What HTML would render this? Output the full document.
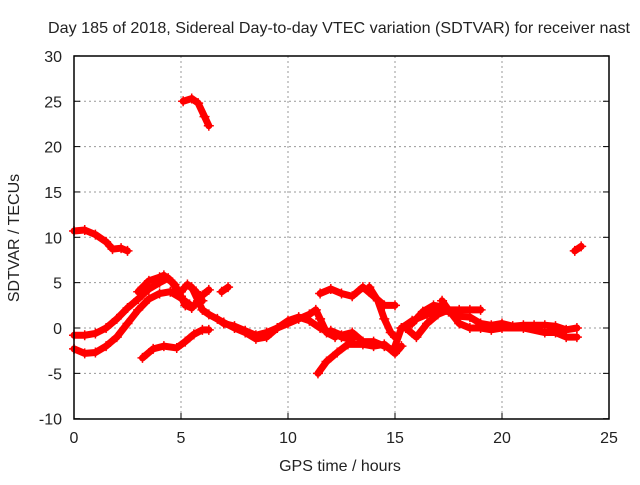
<!DOCTYPE html>
<html><head><meta charset="utf-8"><style>
body{margin:0;background:#fff;font-family:"Liberation Sans",sans-serif}
svg text{font-family:"Liberation Sans",sans-serif;font-size:16px;fill:#222}
</style></head><body>
<svg id="c" width="640" height="480">
<text x="339" y="33" text-anchor="middle" textLength="582" lengthAdjust="spacingAndGlyphs">Day 185 of 2018, Sidereal Day-to-day VTEC variation (SDTVAR) for receiver nast</text>
<text x="340" y="471" text-anchor="middle">GPS time / hours</text>
<text transform="translate(19,238) rotate(-90)" text-anchor="middle">SDTVAR / TECUs</text>
<g id="grid"></g><g id="marks"></g>
<rect x="74" y="56" width="535" height="363" fill="none" stroke="#000" stroke-width="1.5"/>
</svg>
<script>
const xTicks=[0,5,10,15,20,25];
const yTicks=[-10,-5,0,5,10,15,20,25,30];
const tracks=[
[[5.1,25],[5.5,25.3],[5.8,24.8],[6.1,23.3],[6.3,22.3]],
[[0,10.7],[0.5,10.8],[1,10.3],[1.5,9.5],[1.8,8.7],[2.2,8.8],[2.5,8.5]],
[[23.4,8.5],[23.7,9]],
[[0,-0.8],[0.5,-0.8],[1,-0.6],[1.5,0],[2,1],[2.5,2.2],[3,3.2],[3.5,4.3],[4,5],[4.4,5.5],[4.7,4.8],[5,3.5],[5.2,2.5],[5.5,2.2],[5.8,3],[6,3.6],[6.3,4.2]],
[[3,4],[3.5,5.2],[4,5.6],[4.2,5.8],[4.6,5],[5,3.3],[5.4,2.6]],
[[5,4],[5.3,4.8],[5.7,4],[6,3]],
[[5.5,4.5],[6,2],[6.3,1.5],[7,0.6],[7.5,0],[8,-0.5],[8.5,-1.2],[9,-1],[9.5,0],[10,0.5],[10.5,1],[11,1.5],[11.3,2],[11.5,1],[11.8,-0.5],[12.2,-1]],
[[6.7,1],[7,0.5],[7.5,0.2],[8,-0.3],[8.5,-0.8],[9,-0.5],[9.5,0],[10,0.8],[10.5,1.2],[11,0.8],[11.5,0],[12,-0.5],[12.5,-1],[13,-1.3]],
[[0,-2.3],[0.5,-2.8],[1,-2.7],[1.5,-2],[2,-1],[2.5,0.5],[3,2],[3.5,3.2],[4,3.8],[4.5,4],[5,3.3]],
[[3.2,-3.3],[3.7,-2.3],[4.2,-2],[4.8,-2.2],[5.2,-1.5],[5.6,-0.7],[6,-0.2],[6.3,-0.2]],
[[6.9,4],[7.2,4.5]],
[[11.4,-5],[11.8,-3.7],[12.3,-2.7],[12.8,-1.8],[13.5,-1.8],[14,-2],[14.5,-1.8],[15,-2.8],[15.3,-2]],
[[11.5,3.8],[12,4.3],[12.5,3.8],[13,3.5],[13.5,4.5],[14,3.5],[14.5,2.5],[15,2.5]],
[[13.8,4.5],[14.2,3],[14.5,1],[14.8,-0.5],[15,-1]],
[[12,-0.3],[12.5,-0.8],[13,-0.5],[13.5,-1.5],[14,-1.5],[14.5,-2],[15,-2.5]],
[[15,-2],[15.3,0],[15.8,0.8],[16,1],[16.5,1.5],[17,2],[17.5,1.8],[18,1.3],[18.5,1.2],[19,0.5],[19.5,0.3],[20,0.5],[20.5,0.2],[21,0.3],[21.5,0.3],[22,0.3],[22.5,0.2],[23,-0.2],[23.5,0]],
[[15.5,0],[16,-1],[16.5,0.5],[17,1.5],[17.5,2],[18,2],[18.5,2],[19,2]],
[[17.2,3],[17.5,2],[18,0.5],[18.5,0],[19,0],[19.5,-0.2],[20,0],[21,0],[22,-0.5],[22.5,-0.5],[23,-1],[23.5,-1]],
[[15.3,0],[15.8,0.5],[16.3,1.8],[16.8,2.5],[17.3,2.3]]
];
const NS="http://www.w3.org/2000/svg";
const X=t=>74+t*21.4, Y=v=>328-v*9.07;
function mk(tag,a,p){const e=document.createElementNS(NS,tag);for(const k in a)e.setAttribute(k,a[k]);p.appendChild(e);return e;}
const g=document.getElementById('grid'), m=document.getElementById('marks');
xTicks.forEach(t=>{
 if(t>0&&t<25){const l=mk('line',{x1:X(t),x2:X(t),y1:56,y2:419,stroke:'#999','stroke-dasharray':'2,3'},g);}
 const tk=mk('line',{x1:X(t),x2:X(t),y1:419,y2:413,stroke:'#000'},g);
 
 const tx=mk('text',{x:X(t),y:443,'text-anchor':'middle'},g);tx.textContent=t;
 
});
yTicks.forEach(v=>{
 if(v>-10&&v<30){const l=mk('line',{x1:74,x2:609,y1:Y(v),y2:Y(v),stroke:'#999','stroke-dasharray':'2,3'},g);}
 const tk=mk('line',{x1:74,x2:80,y1:Y(v),y2:Y(v),stroke:'#000'},g);
 
 const tk2=mk('line',{x1:603,x2:609,y1:Y(v),y2:Y(v),stroke:'#000'},g);
 
 const tx=mk('text',{x:62,y:Y(v)+6,'text-anchor':'end'},g);tx.textContent=v;
 
});
tracks.forEach(tr=>{
 const pl=mk('polyline',{points:tr.map(p=>X(p[0])+','+Y(p[1])).join(' '),fill:'none',stroke:'#f00','stroke-width':7,'stroke-linejoin':'round','stroke-linecap':'round'},m);
 
 tr.forEach(p=>{
  const c=mk('path',{d:`M${X(p[0])-5},${Y(p[1])}h10M${X(p[0])},${Y(p[1])-5}v10`,stroke:'#f00','stroke-width':1.5},m);
  
 });
});
</script>
</body></html>
